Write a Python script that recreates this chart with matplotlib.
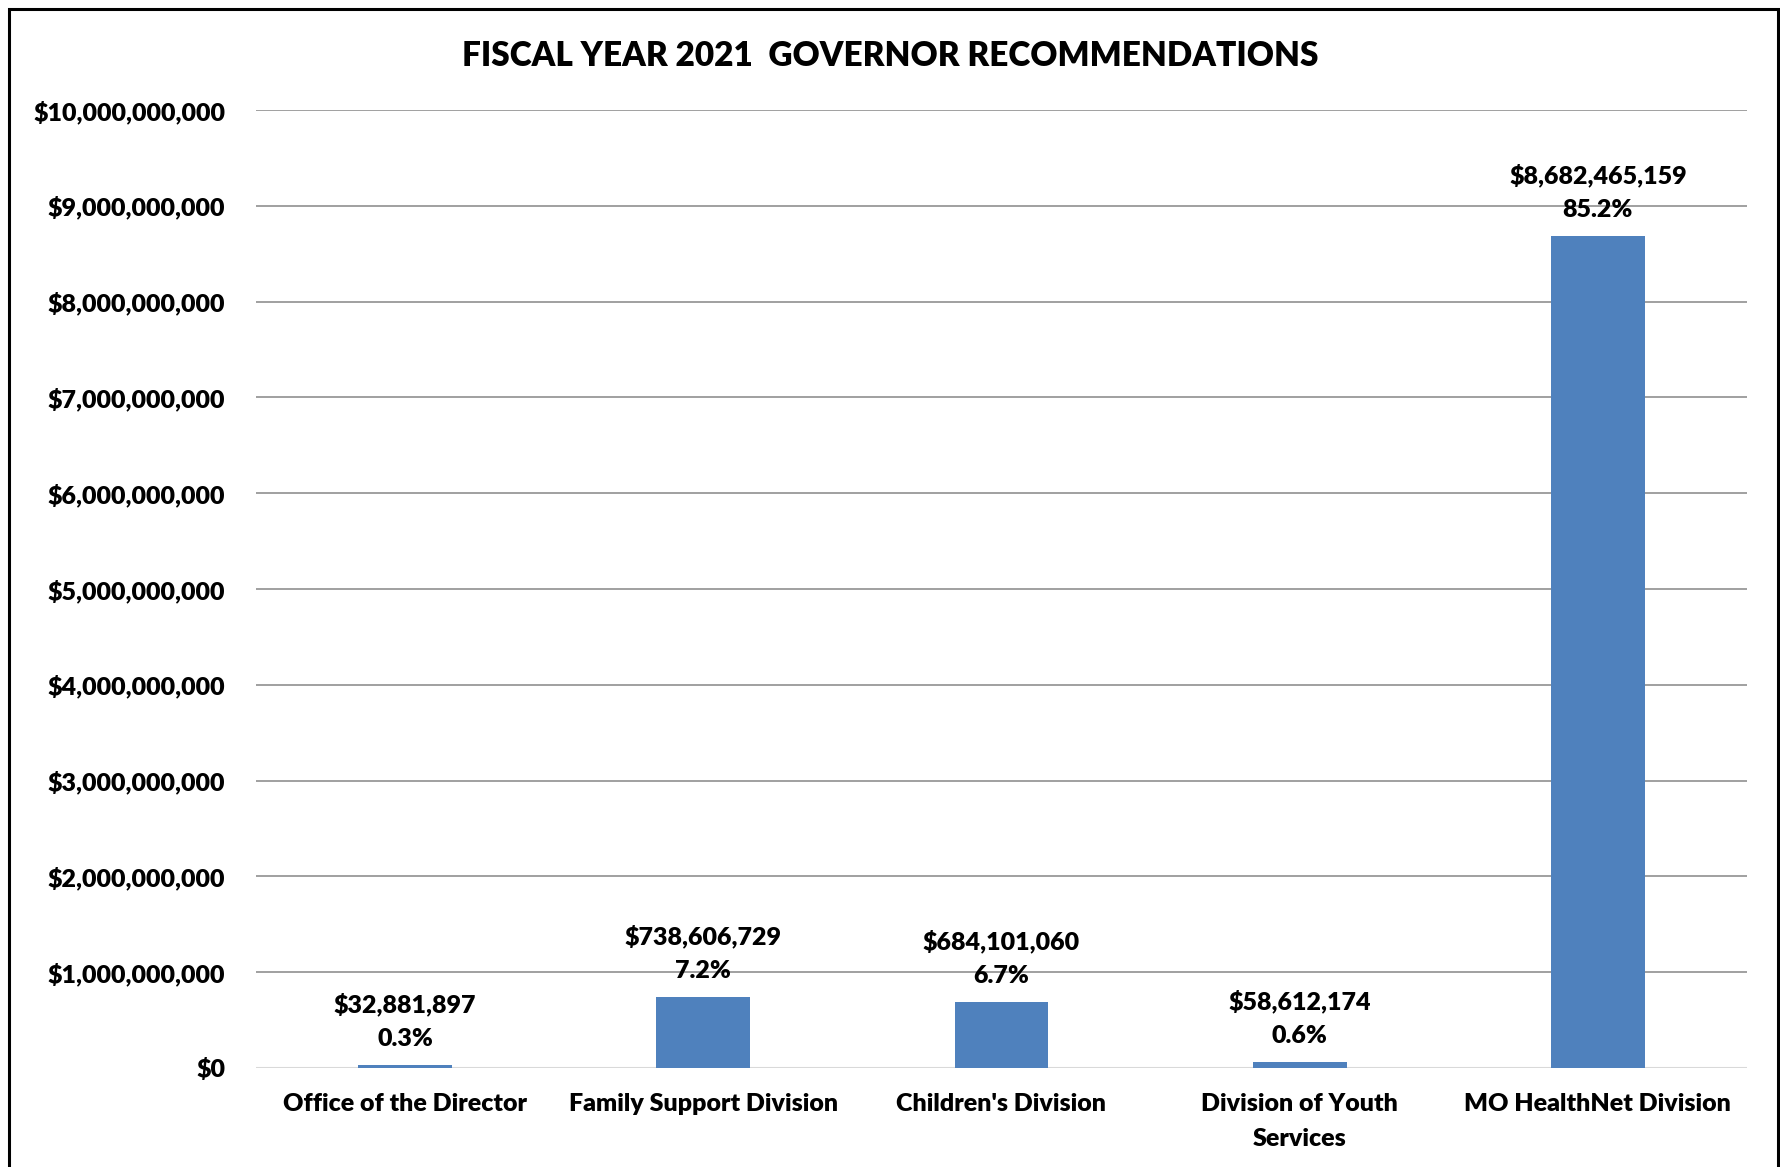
import matplotlib
matplotlib.use("Agg")
import matplotlib.pyplot as plt
from matplotlib.patches import Rectangle
from matplotlib.ticker import FuncFormatter, MultipleLocator

categories = ["Office of the Director", "Family Support Division", "Children's Division",
              "Division of Youth\nServices", "MO HealthNet Division"]
values = [32881897, 738606729, 684101060, 58612174, 8682465159]
percents = ["0.3%", "7.2%", "6.7%", "0.6%", "85.2%"]
title = "FISCAL YEAR 2021  GOVERNOR RECOMMENDATIONS"

plt.rcParams['font.family'] = ['Lato', 'DejaVu Sans']
WT = "heavy"

W, H = 1781, 1167
fig = plt.figure(figsize=(W / 100, H / 100), dpi=100)
ax = fig.add_axes([256 / W, 1 - 1068 / H, (1747 - 256) / W, (1068 - 110) / H])

x = list(range(len(categories)))
bars = ax.bar(x, values, width=0.315, color="#4F81BD", zorder=3)

ax.set_xlim(-0.5, len(categories) - 0.5)
ax.set_ylim(0, 10_000_000_000)
ax.yaxis.set_major_locator(MultipleLocator(1_000_000_000))
ax.yaxis.set_major_formatter(FuncFormatter(lambda v, p: f"${v:,.0f}"))
ax.grid(axis="y", color="#868686", linewidth=1.1, zorder=0)
ax.set_axisbelow(True)
for s in ax.spines.values():
    s.set_visible(False)
ax.axhline(0, color="#D9D9D9", linewidth=1.5, zorder=2)
ax.tick_params(axis="both", length=0, labelsize=18)
ax.tick_params(axis="y", pad=22)
ax.tick_params(axis="x", pad=18)
ax.set_xticks(x)
ax.set_xticklabels(categories, fontweight=WT, linespacing=1.7)
for lab in ax.get_yticklabels():
    lab.set_fontweight(WT)

for xi, v, pc in zip(x, values, percents):
    ax.annotate(f"${v:,.0f}\n{pc}", xy=(xi, v), xytext=(0, 11), textcoords="offset points",
                ha="center", va="bottom", fontsize=18, fontweight=WT, linespacing=1.65,
                zorder=4)

fig.text(0.5, 1 - 56 / H, title, ha="center", va="center", fontsize=24, fontweight=WT)

fig.patches.append(Rectangle((9 / W, -0.2), (1778 - 9) / W, 1.2 - 9 / H, transform=fig.transFigure,
                             fill=False, edgecolor="black", linewidth=2.2))

fig.savefig("out.png", dpi=100)
